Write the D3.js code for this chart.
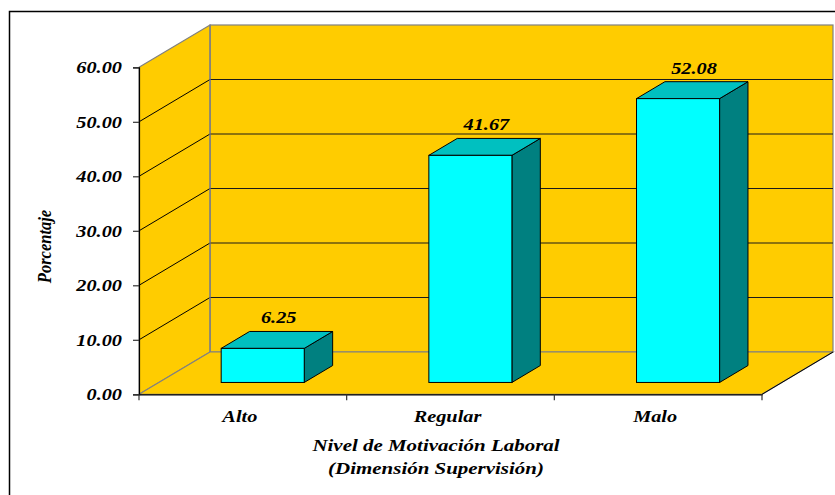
<!DOCTYPE html>
<html>
<head>
<meta charset="utf-8">
<script src="https://cdn.jsdelivr.net/npm/d3@7/dist/d3.min.js"></script>
<style>
  html, body { margin: 0; padding: 0; background: #ffffff; }
  svg { display: block; }
  text { font-family: "Liberation Serif", "Times New Roman", serif; font-weight: bold; font-style: italic; fill: #000; }
</style>
</head>
<body>
<svg id="chart" width="835" height="495"></svg>
<script>
// Data
const categories = ["Alto", "Regular", "Malo"];
const values = [6.25, 41.67, 52.08];
const yTicks = [0, 10, 20, 30, 40, 50, 60];
const xTitle = ["Nivel de Motivación Laboral", "(Dimensión Supervisión)"];
const yTitle = "Porcentaje";

const svg = d3.select("#chart");

// Front plane of the 3D plot area and depth offset of the back wall
const plotL = 139, plotR = 762, plotB = 394.3, plotT = 67.3;
const DX = 71, DY = -42.3;
const depthFront = 0.28, depthBack = 0.68;   // bar position within the floor depth
const stretch = 1.27;                          // wide typeface look

const x = d3.scaleBand().domain(categories).range([plotL, plotR]).paddingInner(0.6).paddingOuter(0.3);
const y = d3.scaleLinear().domain([0, 60]).range([plotB, plotT]);

const wallFill = "#FFCC00", edge = "#808080";

// outer frame
svg.append("rect").attr("x", 9.5).attr("y", 11.5).attr("width", 840).attr("height", 500)
  .attr("fill", "#fff").attr("stroke", "#000").attr("stroke-width", 1.5);

const g = svg.append("g");

// back wall
g.append("rect")
  .attr("x", plotL + DX).attr("y", plotT + DY)
  .attr("width", plotR - plotL).attr("height", plotB - plotT)
  .attr("fill", wallFill).attr("stroke", edge).attr("stroke-width", 1.2);

// side wall
g.append("polygon")
  .attr("points", [[plotL, plotT], [plotL + DX, plotT + DY], [plotL + DX, plotB + DY], [plotL, plotB]].join(" "))
  .attr("fill", wallFill).attr("stroke", edge).attr("stroke-width", 1.2);

// floor
g.append("polygon")
  .attr("points", [[plotL, plotB], [plotR, plotB], [plotR + DX, plotB + DY], [plotL + DX, plotB + DY]].join(" "))
  .attr("fill", wallFill).attr("stroke", edge).attr("stroke-width", 1.2);
g.append("line")
  .attr("x1", plotR).attr("y1", plotB).attr("x2", plotR + DX).attr("y2", plotB + DY)
  .attr("stroke", "#000").attr("stroke-width", 1);

// gridlines on side and back walls
const grid = yTicks.filter(d => d > 0 && d < 60);
g.selectAll("line.gside").data(grid).enter().append("line")
  .attr("x1", plotL).attr("y1", d => y(d))
  .attr("x2", plotL + DX).attr("y2", d => y(d) + DY)
  .attr("stroke", "#000").attr("stroke-width", 1);
g.selectAll("line.gback").data(grid).enter().append("line")
  .attr("x1", plotL + DX).attr("y1", d => y(d) + DY)
  .attr("x2", plotR + DX).attr("y2", d => y(d) + DY)
  .attr("stroke", "#1a1a1a").attr("stroke-width", 1);
// back-wall left edge drawn over the gridlines
g.append("line").attr("x1", plotL + DX).attr("y1", plotT + DY).attr("x2", plotL + DX).attr("y2", plotB + DY)
  .attr("stroke", edge).attr("stroke-width", 1.2);

// bars (side, top, front face)
const bars = g.selectAll("g.bar").data(categories.map((c, i) => ({ c, v: values[i] }))).enter()
  .append("g").attr("class", "bar");
const fx = d => x(d.c) + DX * depthFront;
const fy0 = plotB + DY * depthFront;
const fyv = d => y(d.v) + DY * depthFront;
const bdx = DX * (depthBack - depthFront), bdy = DY * (depthBack - depthFront);
const bw = x.bandwidth();

bars.append("polygon")
  .attr("points", d => [[fx(d) + bw, fyv(d)], [fx(d) + bw + bdx, fyv(d) + bdy], [fx(d) + bw + bdx, fy0 + bdy], [fx(d) + bw, fy0]].join(" "))
  .attr("fill", "#008080").attr("stroke", "#000").attr("stroke-width", 1).attr("stroke-linejoin", "round");
bars.append("polygon")
  .attr("points", d => [[fx(d), fyv(d)], [fx(d) + bdx, fyv(d) + bdy], [fx(d) + bw + bdx, fyv(d) + bdy], [fx(d) + bw, fyv(d)]].join(" "))
  .attr("fill", "#00C0C0").attr("stroke", "#000").attr("stroke-width", 1).attr("stroke-linejoin", "round");
bars.append("rect")
  .attr("x", fx).attr("y", fyv).attr("width", bw).attr("height", d => fy0 - fyv(d))
  .attr("fill", "#00FFFF").attr("stroke", "#000").attr("stroke-width", 1);

// horizontally widened text helper
function stretchedText(sel, tx, ty, anchor) {
  return sel.attr("text-anchor", anchor)
    .attr("transform", (d, i) => `translate(${tx(d, i)},${ty(d, i)}) scale(${stretch},1)`);
}

// value labels
stretchedText(
  bars.append("text").attr("font-size", 16).text(d => d.v.toFixed(2)),
  d => fx(d) + bw / 2 + 16, d => fyv(d) - 25, "middle");

// axes
const yAxisG = svg.append("g").attr("transform", `translate(${plotL},0)`)
  .call(d3.axisLeft(y).tickValues(yTicks).tickSize(6).tickFormat(""));
yAxisG.select(".domain").attr("stroke", "#000").attr("stroke-width", 1.2);
yAxisG.selectAll(".tick line").attr("stroke", "#333").attr("stroke-width", 1.2);

const yLab = svg.append("g").selectAll("text").data(yTicks).enter().append("text")
  .attr("font-size", 16).text(d => d.toFixed(2));
stretchedText(yLab, () => 122, d => y(d) + 6, "end");

const xAxisG = svg.append("g").attr("transform", `translate(0,${plotB})`)
  .call(d3.axisBottom(x).tickSize(0).tickFormat(""));
xAxisG.select(".domain").attr("stroke", "#000").attr("stroke-width", 1.2);
const tickX = categories.map(c => x(c) - x.step() * x.paddingInner() / 2).concat([plotR]);
svg.append("g").selectAll("line").data(tickX).enter().append("line")
  .attr("x1", d => d).attr("x2", d => d).attr("y1", plotB).attr("y2", plotB + 6)
  .attr("stroke", "#333").attr("stroke-width", 1.2);

const xLab = svg.append("g").selectAll("text").data(categories).enter().append("text")
  .attr("font-size", 16).text(d => d);
stretchedText(xLab, d => x(d) + bw / 2 - 3, () => 421.5, "middle");

// axis titles
const xt = svg.append("g").selectAll("text").data(xTitle).enter().append("text")
  .attr("font-size", 16.5).text(d => d);
stretchedText(xt, () => 436, (d, i) => 451 + i * 22.5, "middle");

svg.append("text").attr("font-size", 16.5).attr("text-anchor", "middle")
  .attr("transform", "translate(51,246.5) rotate(-90) scale(1,1.15)")
  .text(yTitle);
</script>
</body>
</html>
